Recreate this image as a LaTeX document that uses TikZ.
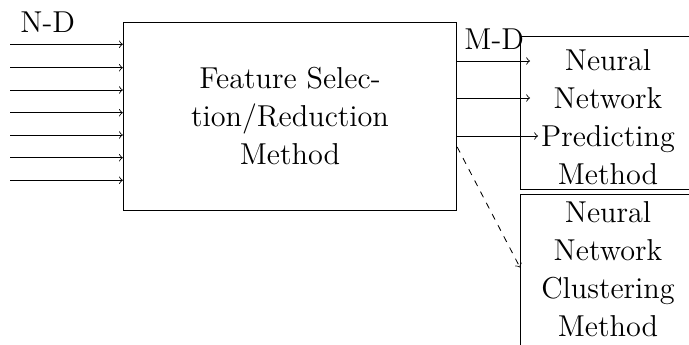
\documentclass[tikz,border=0pt]{standalone}
\usetikzlibrary{calc}
\begin{document}
\begin{tikzpicture}[
  x={(0.47619pt,0)}, y={(0,-0.47619pt)},
  every node/.style={font=\Large},
  bigbox/.style={draw, minimum width=158.8pt, minimum height=89.2pt, align=center, inner sep=0pt},
  sidebox/.style={draw, anchor=north west, minimum width=90pt, minimum height=72.9pt, inner sep=0pt},
  boxtext/.style={align=center, inner sep=0pt},
  tag/.style={anchor=base west, inner sep=0pt}
]
\clip (0,0) rectangle (689,345);

% feature selection block
\node[bigbox] (fs) at (290,116.3) {Feature Selec-\\tion/Reduction\\Method};

% the two neural network blocks on the right
\node[sidebox] (pred) at (520,36) {};
\node[boxtext] (predtext) at (608,117) {Neural\\Network\\Predicting\\Method};
\node[sidebox] (clust) at (520,194.5) {};
\node[boxtext] (clusttext) at (608,269) {Neural\\Network\\Clustering\\Method};

% dimension labels
\node[tag] (nd) at (20,33) {N-D};
\node[tag] (md) at (464,50) {M-D};

% N input features
\foreach \i/\y in {1/44.3, 2/67.7, 3/90, 4/112.7, 5/135, 6/157.7, 7/180.3} {
  \coordinate (in\i) at (10,\y);
  \draw[->] (in\i) -- (in\i -| fs.west);
}

% M selected features
\coordinate (out1) at (530,61);
\coordinate (out2) at (530,98);
\coordinate (out3) at (538,136);
\foreach \i in {1,2,3} {
  \draw[->] (fs.east |- out\i) -- (out\i);
}

% alternative path to clustering
\draw[->, dashed] ([yshift=-14.6pt]fs.east) -- ([yshift=1.9pt]clust.west);
\end{tikzpicture}
\end{document}
